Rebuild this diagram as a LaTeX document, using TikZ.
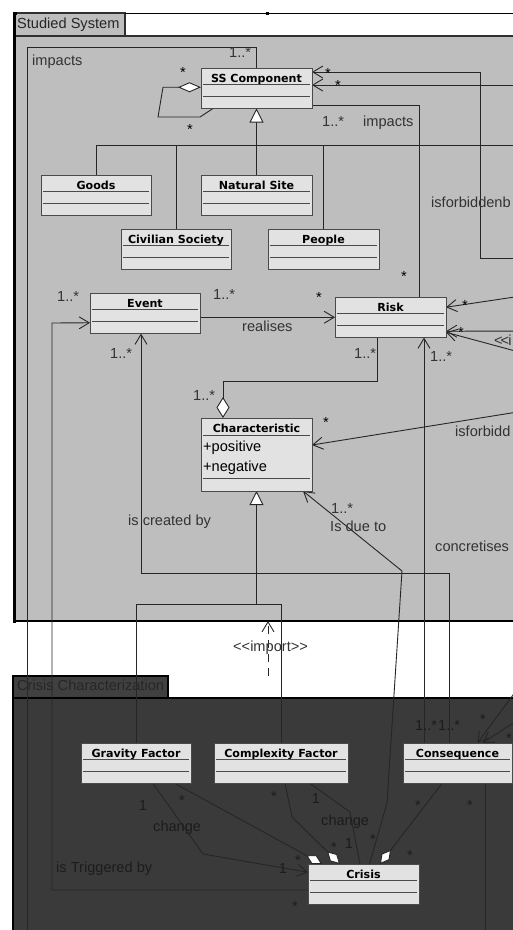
\documentclass[tikz,border=0pt]{standalone}
\usepackage{fontspec}
\setmainfont{Liberation Sans}
\newfontfamily\clsfont{DejaVu Sans}
\usetikzlibrary{arrows.meta}
\pgfdeclarelayer{bg}
\pgfdeclarelayer{wires}
\pgfsetlayers{bg,wires,main}
\definecolor{ssfill}{HTML}{BEBEBE}
\definecolor{ccfill}{HTML}{3A3A3A}
\definecolor{cctab}{HTML}{404040}
\definecolor{cctext}{HTML}{262626}
\definecolor{clsfill}{HTML}{E2E2E2}
\definecolor{clsline}{HTML}{4A4A4A}
\definecolor{pkgline}{HTML}{303030}
\definecolor{wire}{HTML}{262626}
\definecolor{txtup}{HTML}{333333}
\definecolor{txtdn}{HTML}{1C1C1C}
\newcommand\umlclass[5]{%
  \node[cls, minimum width=#4pt] (#1) at (#2,#3) {};
  \node[clstitle] (#1-t) at ([yshift=-14pt]#1.north) {#5};
  \draw[sepl] ([xshift=2pt,yshift=-16.5pt]#1.north west) -- ([xshift=-2pt,yshift=-16.5pt]#1.north east);
  \draw[sepl] ([xshift=2pt,yshift=-28pt]#1.north west) -- ([xshift=-2pt,yshift=-28pt]#1.north east);
}
\newcommand\ulabel[4]{\node[lbl] (#1) at (#2,#3) {#4};}
\newcommand\dlabel[4]{\node[lbl,text=txtdn] (#1) at (#2,#3) {#4};}
\newcommand\ustar[3]{\node[lbl,anchor=base,text=black] (#1) at (#2,#3+8.5) {*};}
\newcommand\dstar[3]{\node[lbl,anchor=base,text=txtdn] (#1) at (#2,#3+8.5) {*};}
\newcommand\done[3]{\node[lbl,anchor=center,text=txtdn] (#1) at (#2,#3+1.4) {1};}
\begin{document}
\begin{tikzpicture}[x=1pt,y=-1pt,
  cls/.style={draw=clsline, fill=clsfill, line width=1pt, anchor=north west, inner sep=0pt, outer sep=0pt, minimum height=40.5pt},
  clstitle/.style={font=\clsfont\bfseries\fontsize{11.1}{13}\selectfont, anchor=base, inner sep=0pt, text=black},
  sepl/.style={draw=clsline, line width=1pt},
  lbl/.style={font=\fontsize{14.6}{16}\selectfont, text=txtup, inner sep=0pt, anchor=west, text height=10.5pt, text depth=2.8pt},
  conn/.style={draw=wire, line width=0.9pt},
  barb/.style={conn, -{Straight Barb[length=10pt,width=12pt]}},
  agg/.style={conn, -{Diamond[length=18pt,width=10pt,fill=white]}},
  aggh/.style={conn, -{Diamond[length=23pt,width=10pt,fill=white]}},
  aggv/.style={conn, -{Diamond[length=21pt,width=13pt,fill=white]}},
  gen/.style={conn, -{Triangle[length=14pt,width=14pt,fill=white]}},
  pkg/.style={inner sep=0pt, outer sep=0pt}
]
\useasboundingbox (0,0) rectangle (513,930);
\begin{pgfonlayer}{bg}
  \fill[white] (0,0) rectangle (513,930);
  \node[pkg, fill=ssfill, draw=pkgline, line width=1.5pt, anchor=north west, minimum width=520pt, minimum height=585pt] (ss) at (15,36) {};
  \node[pkg, fill=ssfill, draw=pkgline, line width=1.5pt, anchor=south west, minimum width=110pt, minimum height=23pt] (sstab) at (15,36) {};
  \draw[black, line width=0.8pt] (sstab.north east) -- (525,13);
  \node[pkg, fill=ccfill, draw=black, line width=1.2pt, anchor=north west, minimum width=520pt, minimum height=240pt] (cc) at (13,698) {};
  \node[pkg, fill=cctab, draw=black, line width=1.2pt, anchor=south west, minimum width=155pt, minimum height=22pt] (cctab) at (13,698) {};
  \draw[black, line width=2.5pt] (14.5,12) -- (14.5,621) -- (525,621);
\end{pgfonlayer}

% classes
\umlclass{ssc}{201}{68}{111}{SS Component}
\umlclass{goods}{41}{175}{110}{Goods}
\umlclass{nat}{201}{175}{111}{Natural Site}
\umlclass{civ}{121}{229}{110}{Civilian Society}
\umlclass{people}{268}{229}{111}{People}
\umlclass{event}{90}{293}{110}{Event}
\umlclass{risk}{335}{297}{111}{Risk}
\node[cls, minimum width=111pt, minimum height=73pt] (char) at (201,418) {};
\node[clstitle] (char-t) at ([yshift=-14pt]char.north) {Characteristic};
\draw[sepl] ([xshift=2pt,yshift=-17pt]char.north west) -- ([xshift=-2pt,yshift=-17pt]char.north east);
\draw[sepl] ([xshift=2pt,yshift=-60pt]char.north west) -- ([xshift=-2pt,yshift=-60pt]char.north east);
\node[lbl, text=black] (char-a1) at (203,448) {+positive};
\node[lbl, text=black] (char-a2) at (203,468) {+negative};
\umlclass{gf}{81}{743}{110}{Gravity Factor}
\umlclass{cf}{214}{743}{134}{Complexity Factor}
\umlclass{cons}{403}{743}{109}{Consequence}
\umlclass{crisis}{308}{864}{111}{Crisis}

\begin{pgfonlayer}{wires}
  % impacts loop
  \coordinate (impTL) at (27,47);
  \coordinate (impEnd) at (27,940);
  \draw[conn] (ssc.north) |- (impTL) -- (impEnd);
  % self aggregation
  \draw[aggh] ([xshift=12pt]ssc.south west) -- (200,117) -- (158,117) -- (163,87.25) -- ([yshift=1pt]ssc.west);
  % generalization to SS Component
  \coordinate (g1) at (256.5,145);
  \coordinate (g1R) at (530,145);
  \draw[conn] (goods.north) |- (g1);
  \draw[conn] (civ.north) |- (g1);
  \draw[conn] (people.north) |- (g1);
  \draw[conn] (nat.north) -- (g1);
  \draw[conn] (g1) -- (g1R);
  \draw[gen] (g1) -- (ssc.south);
  % impacts to Risk
  \draw[conn] ([yshift=3pt]ssc.south east) -| ([xshift=28.5pt]risk.north);
  % arrows into SS Component
  \coordinate (r1) at (530,258);
  \coordinate (r2) at (530,85);
  \draw[barb] (r1) -- (480,258) -- (480,72) -- ([yshift=-4pt]ssc.north east);
  \draw[barb] (r2) -- ([yshift=-17pt]ssc.north east);
  % realises
  \draw[barb] (event.east |- risk.west) -- (risk.west);
  % Risk - Characteristic aggregation
  \draw[aggv] ([xshift=-13.5pt]risk.south) -- (377,381) -- (223,381) -- ([xshift=-33.5pt]char.north);
  % is due to
  \draw[barb] ([xshift=6pt]crisis.north) -- (387,803) -- (402,571) -- ([xshift=-9pt]char.south east);
  % concretises
  \draw[barb] ([xshift=-33.5pt]cons.north) -- ([xshift=33.5pt]risk.south);
  % is created by
  \draw[barb] ([xshift=-8.5pt]cons.north) |- (141,573) -- ([xshift=-4pt]event.south);
  % generalization to Characteristic
  \coordinate (g2) at (256.5,604);
  \draw[conn] (gf.north) |- (g2);
  \draw[conn] (cf.north) |- (g2);
  \draw[gen] (g2) -- (char.south);
  % import
  \coordinate (impS) at (268,676);
  \draw[conn, dash pattern=on 8pt off 6pt, -{Straight Barb[length=10pt,width=12pt]}] (impS) -- (impS |- ss.south);
  % is Triggered by
  \draw[barb] ([yshift=-5.75pt]crisis.west) -- (52,890) -- (52,323) -- ([yshift=-9.5pt]event.west);
  % Gravity change
  \draw[barb] ([xshift=17pt]gf.south) -- (203,854) -- ([yshift=12pt]crisis.west);
  \draw[agg] ([xshift=39pt]gf.south) -- ([xshift=-41.5pt]crisis.north);
  % Complexity
  \draw[agg] ([xshift=4pt]cf.south) -- (292,817) -- ([xshift=-23.5pt]crisis.north);
  \draw[conn] ([xshift=29pt]cf.south) -- (350,812) -- ([xshift=-3.5pt]crisis.north);
  % Consequence
  \draw[agg] ([xshift=-15.5pt]cons.south) -- ([xshift=16.5pt]crisis.north);
  \coordinate (r5) at (530,672);
  \coordinate (r6) at (530,712);
  \draw[barb] (r5) -- ([xshift=20pt]cons.north);
  \draw[barb] (r6) -- ([xshift=25pt]cons.north);
  \coordinate (r7) at (485,940);
  \draw[conn] ([xshift=27.5pt]cons.south) -- (r7);
  % arrows into Risk
  \coordinate (r8) at (530,294.7);
  \coordinate (r9) at (530,331);
  \coordinate (r10) at (530,355);
  \draw[barb] (r8) -- ([yshift=10pt]risk.east);
  \draw[barb] (r9) -- ([yshift=-14pt]risk.east);
  \draw[barb] (r10) -- ([yshift=-15pt]risk.east);
  % arrow into Characteristic
  \coordinate (r11) at (530,410);
  \draw[barb] (r11) -- ([yshift=9.5pt]char.east);
\end{pgfonlayer}

% package titles
\node[lbl, text=black!85] (sst) at (17,25) {Studied System};
\node[lbl, text=cctext] (cct) at (17,687) {Crisis Characterization};

% upper labels
\ulabel{l1}{32}{62}{impacts}
\ulabel{l2}{229}{54}{1..*}
\ustar{s1}{183}{69}
\ustar{s2}{190}{126}
\ustar{s3}{328}{70}
\ustar{s4}{338}{82}
\ulabel{l3}{322}{123}{1..*}
\ulabel{l4}{363}{123}{impacts}
\ulabel{l5}{431}{204}{isforbiddenb}
\ustar{s5}{404}{273}
\ustar{s6}{319}{294}
\ulabel{l6}{57}{298}{1..*}
\ulabel{l7}{213}{296}{1..*}
\ulabel{l8}{242}{328}{realises}
\ustar{s7}{465}{302}
\ustar{s8}{461}{329}
\ulabel{l9}{494}{342}{<\kern-2pt<\kern-1pt i}
\ulabel{l10}{110}{355}{1..*}
\ulabel{l11}{354}{355}{1..*}
\ulabel{l12}{430}{358}{1..*}
\ulabel{l13}{193}{397}{1..*}
\ustar{s9}{326}{419}
\ulabel{l14}{455}{433}{isforbidd}
\ulabel{l15}{331}{510}{1..*}
\ulabel{l16}{330}{528}{Is due to}
\ulabel{l17}{128}{522}{is created by}
\ulabel{l18}{435}{548}{concretises}
\ulabel{l19}{233}{648}{<\kern0pt<\kern0pt import>\kern0pt>}

% lower labels
\dlabel{l20}{415}{727}{1..*}
\dlabel{l21}{438}{727}{1..*}
\dstar{s10}{483}{716}
\dstar{s11}{509}{735}
\done{o1}{143}{805}
\dstar{s12}{182}{797}
\dlabel{l22}{153}{828}{change}
\dlabel{l23}{56}{869}{is Triggered by}
\dstar{s13}{274}{793}
\done{o2}{316}{798}
\dlabel{l24}{321}{822}{change}
\dstar{s14}{373}{836}
\done{o3}{349}{843}
\dstar{s15}{334}{844}
\dstar{s16}{298}{857}
\done{o4}{283}{868}
\dstar{s17}{418}{802}
\dstar{s18}{410}{852}
\dstar{s19}{470}{802}
\dstar{s20}{295}{903}

% selection handles
\fill[black] (13.5,11.5) rectangle (16.5,14.5);
\fill[black] (265.5,11.5) rectangle (268.5,14.5);
\fill[black] (13,314.5) rectangle (16,317.5);
\fill[black] (13,619.5) rectangle (16,622.5);
\end{tikzpicture}
\end{document}
